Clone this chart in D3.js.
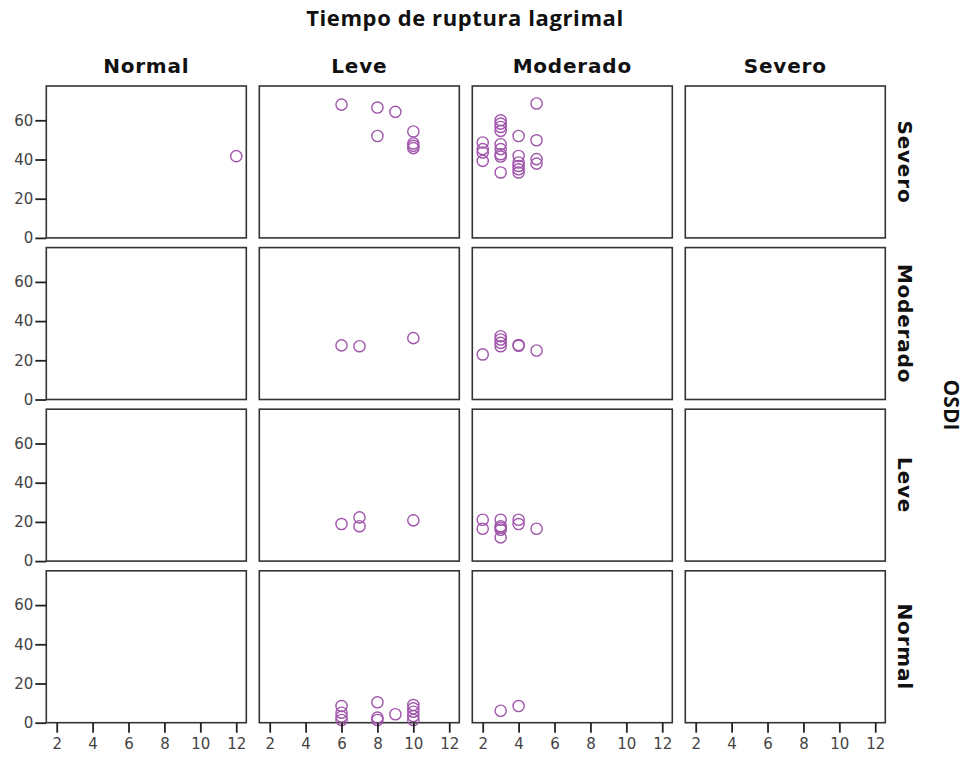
<!DOCTYPE html>
<html>
<head>
<meta charset="utf-8">
<script src="https://cdn.jsdelivr.net/npm/d3@7"></script>
<style>
  body { margin: 0; background: #fff; }
  svg text { font-family: "DejaVu Sans", sans-serif; }
</style>
</head>
<body>
<div id="chart"></div>
<script>
// OSDI rows (top to bottom) and tear break-up time columns
var rowCats = ["Severo", "Moderado", "Leve", "Normal"];
var colCats = ["Normal", "Leve", "Moderado", "Severo"];
var xTicks = [2, 4, 6, 8, 10, 12];
var yTicks = [0, 20, 40, 60];

// points [tiempo, OSDI] for each panel, named osdi_tiempo
var severo_normal = [[12, 41.7]];
var severo_leve = [[6, 68], [8, 66.5], [9, 64.3], [8, 52], [10, 54.3], [10, 48.2], [10, 47], [10, 45.8]];
var severo_moderado = [[2, 48.7], [2, 45.3], [2, 43.6], [2, 39.3],
  [3, 60], [3, 58.3], [3, 56.6], [3, 54.6], [3, 47.8], [3, 45.3], [3, 42.7], [3, 41.5], [3, 33.4],
  [4, 52], [4, 41.8], [4, 38.5], [4, 36.7], [4, 35], [4, 33.4],
  [5, 68.6], [5, 49.8], [5, 40.2], [5, 37.9]];
var moderado_leve = [[6, 27.6], [7, 27.2], [10, 31.3]];
var moderado_moderado = [[2, 23], [3, 32.3], [3, 30.6], [3, 28.9], [3, 27.2], [4, 27.8], [4, 27.4], [5, 25]];
var leve_leve = [[6, 18.9], [7, 22.3], [7, 17.8], [10, 20.8]];
var leve_moderado = [[2, 21.1], [2, 16.5], [3, 21.1], [3, 17.8], [3, 17], [3, 16], [3, 12.1],
  [4, 21.1], [4, 18.9], [5, 16.5]];
var normal_leve = [[6, 8.5], [6, 5.1], [6, 3.1], [6, 1.4], [8, 10.4], [8, 2.6], [8, 1.4], [9, 4.3],
  [10, 9], [10, 7.3], [10, 5.6], [10, 3.4], [10, 1.4]];
var normal_moderado = [[3, 6.1], [4, 8.5]];

var panels = {
  "Severo|Normal": severo_normal,
  "Severo|Leve": severo_leve,
  "Severo|Moderado": severo_moderado,
  "Moderado|Leve": moderado_leve,
  "Moderado|Moderado": moderado_moderado,
  "Leve|Leve": leve_leve,
  "Leve|Moderado": leve_moderado,
  "Normal|Leve": normal_leve,
  "Normal|Moderado": normal_moderado
};

var W = 969, H = 757;
var svg = d3.select("#chart").append("svg").attr("width", W).attr("height", H);

var colBand = d3.scaleBand().domain(colCats).range([46.3, 885.3]).paddingInner(0.061);
var rowBand = d3.scaleBand().domain(rowCats).range([86, 722.7]).paddingInner(0.06);

var x = d3.scaleLinear().domain([1.42, 12.56]).range([0, colBand.bandwidth()]);
var y = d3.scaleLinear().domain([0, 77.5]).range([rowBand.bandwidth(), 0]);

var purple = "#a055ab";
var tickFont = "'DejaVu Sans', sans-serif";

rowCats.forEach(function(r) {
  colCats.forEach(function(c) {
    var g = svg.append("g")
      .attr("transform", "translate(" + colBand(c) + "," + rowBand(r) + ")");

    g.append("rect")
      .attr("width", colBand.bandwidth()).attr("height", rowBand.bandwidth())
      .attr("fill", "#fff").attr("stroke", "#333").attr("stroke-width", 1.6);

    var pts = panels[r + "|" + c] || [];
    g.selectAll("circle").data(pts).enter().append("circle")
      .attr("cx", function(d) { return x(d[0]); })
      .attr("cy", function(d) { return y(d[1]); })
      .attr("r", 5.6)
      .attr("fill", "none")
      .attr("stroke", purple)
      .attr("stroke-width", 1.4);

    if (c === colCats[0]) {
      var ya = g.append("g").call(d3.axisLeft(y).tickValues(yTicks).tickSize(11).tickPadding(2));
      ya.select(".domain").remove();
      ya.selectAll("line").attr("stroke", "#222").attr("stroke-width", 1.8);
      ya.selectAll("text").attr("font-size", 15).attr("fill", "#444")
        .style("font-family", tickFont);
    }
    if (r === rowCats[rowCats.length - 1]) {
      var xa = g.append("g").attr("transform", "translate(0," + rowBand.bandwidth() + ")")
        .call(d3.axisBottom(x).tickValues(xTicks).tickSize(10).tickPadding(6));
      xa.select(".domain").remove();
      xa.selectAll("line").attr("stroke", "#222").attr("stroke-width", 1.8);
      xa.selectAll("text").attr("font-size", 15).attr("fill", "#444")
        .style("font-family", tickFont);
    }
  });
});

// column headers
svg.selectAll(".colLabel").data(colCats).enter().append("text")
  .attr("class", "colLabel")
  .attr("x", function(d) { return colBand(d) + colBand.bandwidth() / 2; })
  .attr("y", 73)
  .attr("text-anchor", "middle")
  .attr("font-size", 20).attr("font-weight", "bold").attr("fill", "#111")
  .attr("letter-spacing", 0.8)
  .text(function(d) { return d; });

// row labels (rotated)
svg.selectAll(".rowLabel").data(rowCats).enter().append("text")
  .attr("class", "rowLabel")
  .attr("transform", function(d) {
    return "translate(898," + (rowBand(d) + rowBand.bandwidth() / 2) + ") rotate(90)";
  })
  .attr("text-anchor", "middle")
  .attr("font-size", 20).attr("font-weight", "bold").attr("fill", "#111")
  .attr("letter-spacing", 0.8)
  .text(function(d) { return d; });

// titles
svg.append("text")
  .attr("x", 465).attr("y", 26)
  .attr("text-anchor", "middle")
  .attr("font-size", 22).attr("font-weight", "bold").attr("fill", "#111")
  .attr("letter-spacing", 0.6)
  .style("font-family", "'Open Sans', sans-serif")
  .text("Tiempo de ruptura lagrimal");

svg.append("text")
  .attr("transform", "translate(944,405) rotate(90)")
  .attr("text-anchor", "middle")
  .attr("font-size", 21).attr("font-weight", "bold").attr("fill", "#111")
  .style("font-family", "'Open Sans', sans-serif")
  .text("OSDI");
</script>
</body>
</html>
